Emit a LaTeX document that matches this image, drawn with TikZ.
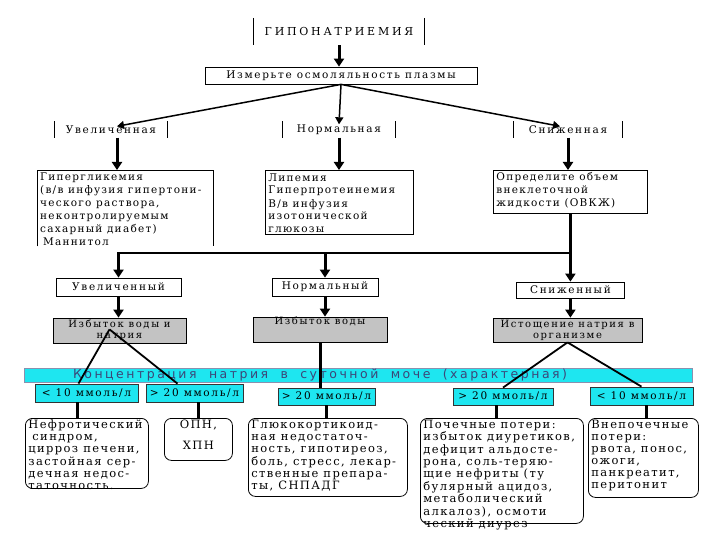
\documentclass[tikz,border=0pt]{standalone}
\usepackage{fontspec}
\setmainfont{DejaVu Serif}
\newfontfamily\bodyfont[LetterSpace=12]{DejaVu Serif}
\newfontfamily\widefont[LetterSpace=16]{DejaVu Serif}
\newfontfamily\capsfont[LetterSpace=25]{DejaVu Serif}
\newfontfamily\bandfont[LetterSpace=20]{DejaVu Sans}
\usetikzlibrary{arrows.meta}
\definecolor{bandcyan}{RGB}{30,230,240}
\definecolor{bandtext}{RGB}{60,70,120}
\definecolor{boxgray}{RGB}{195,195,195}
% text block with fixed size, lines set from the top
\newcommand{\boxtxt}[3]{\parbox[c][#2][t]{#1}{\vspace*{1.5pt}\hspace*{3pt}\begin{tabular}{@{}l@{}}#3\end{tabular}}}
\tikzset{
    plainbox/.style={draw,line width=0.8pt,fill=white,font=\widefont\fontsize{10.5}{12}\selectfont},
    greybox/.style={draw,line width=0.8pt,fill=boxgray,align=center,font=\widefont\fontsize{10}{11}\selectfont},
    cyanbox/.style={draw=black!80,line width=0.8pt,fill=bandcyan,font=\widefont\fontsize{10.5}{11}\selectfont},
    sidebox/.style={font=\widefont\fontsize{10.5}{12}\selectfont},
    textbox/.style={anchor=north west,draw,line width=0.8pt,font=\bodyfont\fontsize{10.5}{13}\selectfont},
    roundbox/.style={textbox,rounded corners=7pt,font=\bodyfont\fontsize{11.5}{12.1}\selectfont},
    bigarrow/.style={line width=3pt,-{Triangle[width=10pt,length=8pt]}},
    fanarrow/.style={line width=1.5pt,-{Triangle[width=8pt,length=7pt]}},
    thinline/.style={line width=1.8pt},
    thickline/.style={line width=3pt}
}
\begin{document}
\begin{tikzpicture}[x=1pt,y=-1pt,every node/.style={inner sep=0pt}]
\useasboundingbox (0,0) rectangle (720,540);

% top
\node[font=\capsfont\fontsize{11}{12}\selectfont,minimum width=170pt,minimum height=27pt] (hypo) at (339,31.5) {ГИПОНАТРИЕМИЯ};
\draw[line width=0.8pt] (hypo.north west) -- (hypo.south west) (hypo.north east) -- (hypo.south east);
\node[plainbox,minimum width=272pt,minimum height=17pt] (osm) at (341,75.5) {Измерьте осмоляльность плазмы};
\draw[bigarrow] (hypo.south) -- (hypo.south |- osm.north);

% osmolality
\node[sidebox,minimum width=112pt,minimum height=16pt] (incOsm) at (111,129.5) {Увеличенная};
\node[sidebox,minimum width=112pt,minimum height=16pt] (normOsm) at (339,129.5) {Нормальная};
\node[sidebox,minimum width=108pt,minimum height=16pt] (lowOsm) at (568,129.5) {Сниженная};
\foreach \n in {incOsm,normOsm,lowOsm}
    \draw[line width=0.8pt] (\n.north west) -- (\n.south west) (\n.north east) -- (\n.south east);
\draw[fanarrow] (osm.south) -- ([xshift=6pt,yshift=-5pt]incOsm.north);
\draw[fanarrow] (osm.south) -- ([yshift=-3pt]normOsm.north);
\draw[fanarrow] (osm.south) -- ([xshift=-8pt,yshift=-5pt]lowOsm.north);

\node[anchor=north west,font=\bodyfont\fontsize{10.5}{13}\selectfont] (hyperG) at (37,170) {\boxtxt{176pt}{76pt}{Гипергликемия\\(в/в инфузия гипертони-\\ческого раствора,\\неконтролируемым\\сахарный диабет)\\\hspace*{3pt}Маннитол}};
\draw[line width=0.8pt] (hyperG.south west) -- (hyperG.north west) -- (hyperG.north east) -- (hyperG.south east);
\node[textbox] (lipem) at (265,170) {\boxtxt{148pt}{64pt}{Липемия\\Гиперпротеинемия\\В/в инфузия\\изотонической\\глюкозы}};
\node[textbox] (ovkzh) at (493,170) {\boxtxt{154pt}{43pt}{Определите объем\\внеклеточной\\жидкости (ОВКЖ)}};
\draw[bigarrow] ([xshift=6pt]incOsm.south) -- ([xshift=6pt]incOsm.south |- hyperG.north);
\draw[bigarrow] (normOsm.south) -- (normOsm.south |- lipem.north);
\draw[bigarrow] (lowOsm.south) -- (lowOsm.south |- ovkzh.north);

% extracellular volume
\coordinate (jM) at (325,253);
\coordinate (jL) at (118.5,253);
\coordinate (jR) at (ovkzh.south |- jM);
\node[plainbox,minimum width=125pt,minimum height=18pt] (incV) at (118.5,287) {Увеличенный};
\node[plainbox,minimum width=106pt,minimum height=18pt] (normV) at (325,287) {Нормальный};
\node[plainbox,minimum width=108pt,minimum height=16pt] (lowV) at (jR |- 0,290) {Сниженный};
\draw[thickline] (ovkzh.south) -- (jR);
\draw[line width=2pt] (jR) -- (jL);
\draw[bigarrow] (jR) -- (lowV.north);
\draw[bigarrow] (jM) -- (normV.north);
\draw[bigarrow] ([yshift=1pt]jL) -- (incV.north);

\node[greybox,minimum width=133pt,minimum height=25pt] (excWNa) at (119.5,330.5) {Избыток воды и\\натрия};
\node[greybox,minimum width=134pt,minimum height=25pt] (excW) at (320,329.5) {Избыток воды\\[6pt]};
\node[greybox,minimum width=149pt,minimum height=24pt] (deplNa) at (567.5,330) {Истощение натрия в\\организме};
\draw[bigarrow] (incV.south) -- (incV.south |- excWNa.north);
\draw[bigarrow] (normV.south) -- (normV.south |- excW.north);
\draw[bigarrow] (lowV.south) -- (lowV.south |- deplNa.north);

% urine sodium
\node[draw=bandtext!60,line width=0.6pt,fill=bandcyan,text=bandtext,font=\bandfont\fontsize{12.5}{12}\selectfont,minimum width=668pt,minimum height=14pt] (band) at (358,375)
    {\makebox[668pt][l]{\hspace*{49pt}\makebox[494pt][s]{Концентрация натрия в суточной моче (характерная)}}};

\node[cyanbox,minimum width=103pt,minimum height=18pt] (naLow1) at (86.5,393) {< 10 ммоль/л};
\node[cyanbox,minimum width=97pt,minimum height=18pt] (naHigh1) at (194.5,393) {> 20 ммоль/л};
\node[cyanbox,minimum width=97pt,minimum height=17pt] (naHigh2) at (326.5,396.5) {> 20 ммоль/л};
\node[cyanbox,minimum width=100pt,minimum height=17pt] (naHigh3) at (503,396.5) {> 20 ммоль/л};
\node[cyanbox,minimum width=103pt,minimum height=18pt] (naLow2) at (641.5,396) {< 10 ммоль/л};

\draw[thinline] ([xshift=-10pt,yshift=14pt]excWNa.south) -- ([xshift=-8pt]naLow1.north);
\draw[thinline] ([xshift=-10pt,yshift=14pt]excWNa.south) -- ([xshift=-17pt]naHigh1.north);
\draw[thickline] (excW.south) -- (excW.south |- naHigh2.north);
\draw[thinline] (deplNa.south) -- (naHigh3.north);
\draw[thinline] (deplNa.south) -- (naLow2.north);

% causes
\node[roundbox] (nephro) at (25,418) {\boxtxt{123pt}{70pt}{Нефротический\\\hspace*{4pt}синдром,\\цирроз печени,\\застойная сер-\\дечная недос-\\таточность.}};
\node[roundbox,align=center] (renal) at (164,418) {\parbox[c][42pt][t]{68pt}{\centering\vspace*{2pt}ОПН,\\[8pt]ХПН}};
\node[roundbox] (gluco) at (248,418) {\boxtxt{159pt}{78pt}{Глюкокортикоид-\\ная недостаточ-\\ность, гипотиреоз,\\боль, стресс, лекар-\\ственные препара-\\ты, СНПАДГ}};
\node[roundbox] (renLoss) at (420,418) {\boxtxt{163pt}{105pt}{Почечные потери:\\избыток диуретиков,\\дефицит альдосте-\\рона, соль-теряю-\\щие нефриты (ту\\булярный ацидоз,\\метаболический\\алкалоз), осмоти\\ческий диурез}};
\node[roundbox] (extLoss) at (588,418) {\boxtxt{110pt}{79pt}{Внепочечные\\потери:\\рвота, понос,\\ожоги,\\панкреатит,\\перитонит}};

\draw[thickline] ([xshift=-9pt]naLow1.south) -- ([xshift=-9pt]naLow1.south |- nephro.north);
\draw[thickline] (naHigh1.south -| renal.north) -- (renal.north);
\draw[thickline] (naHigh2.south) -- (naHigh2.south |- gluco.north);
\draw[thickline] ([xshift=-7pt]naHigh3.south) -- ([xshift=-7pt]naHigh3.south |- renLoss.north);
\draw[thickline] ([xshift=5pt]naLow2.south) -- ([xshift=5pt]naLow2.south |- extLoss.north);
\end{tikzpicture}
\end{document}
